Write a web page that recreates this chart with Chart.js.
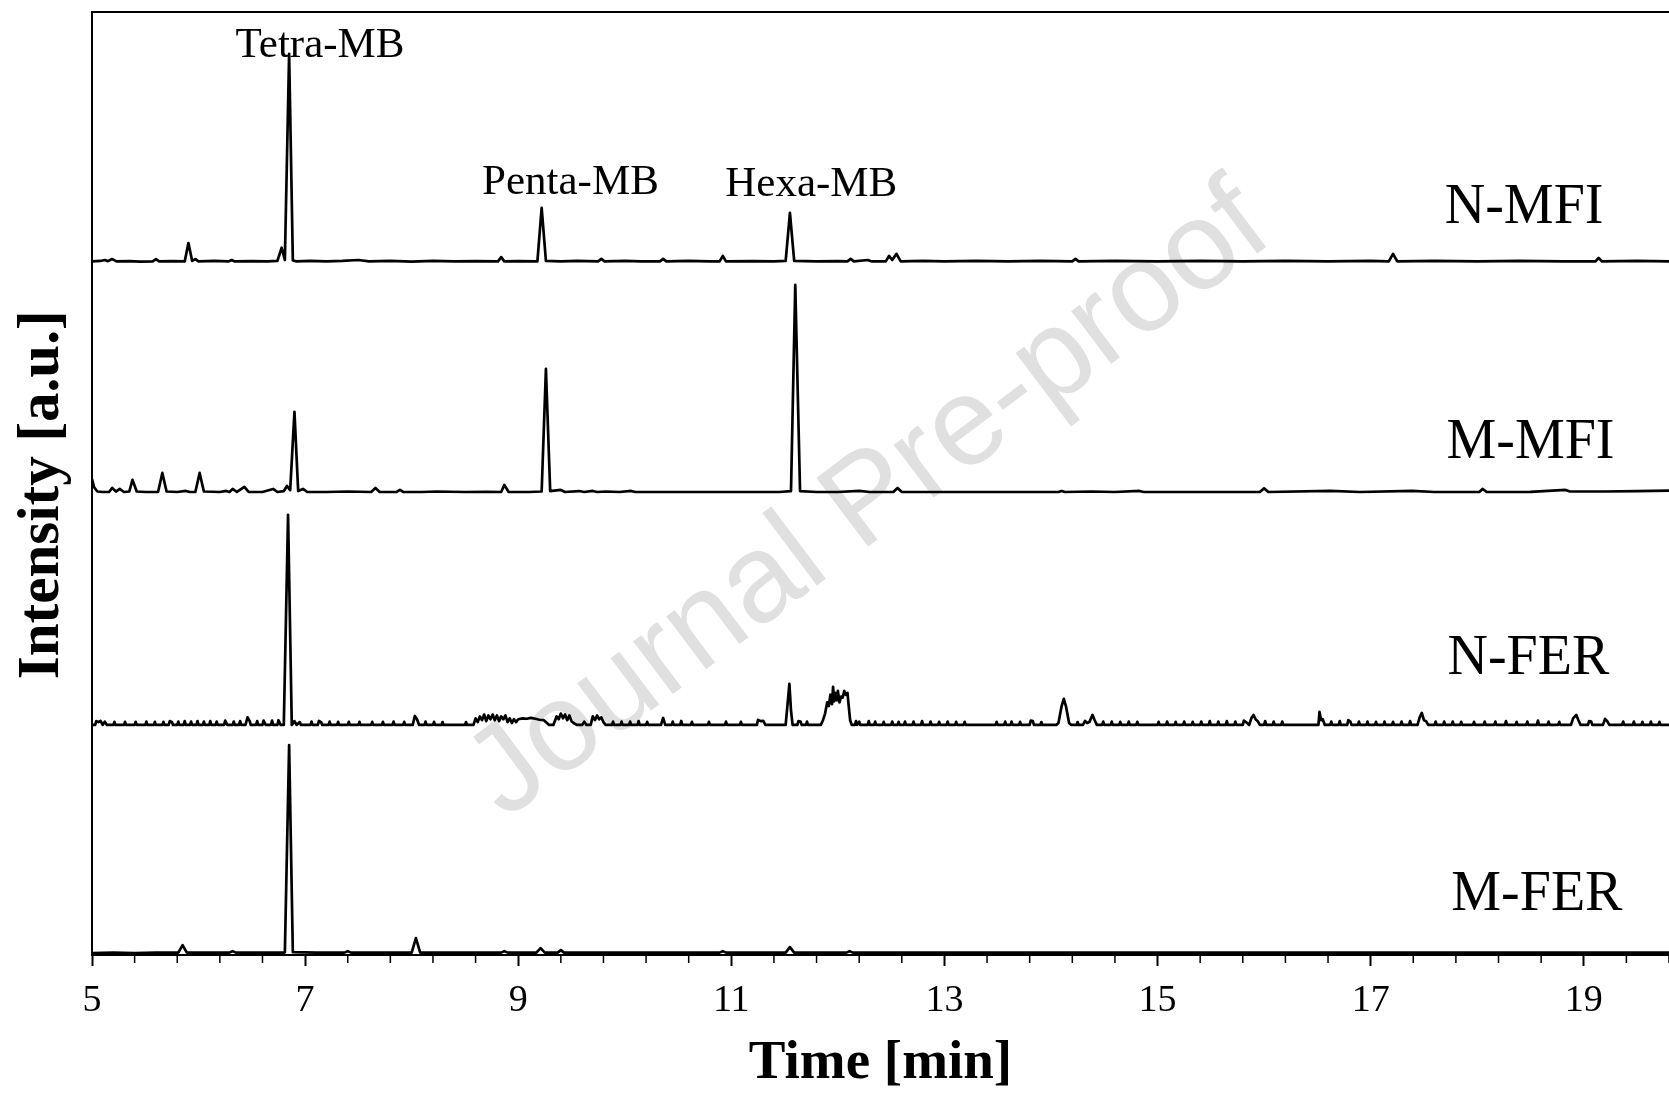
<!DOCTYPE html>
<html>
<head>
<meta charset="utf-8">
<title>MB chromatograms</title>
<script src="https://cdn.jsdelivr.net/npm/chart.js"></script>
<style>
html, body { margin: 0; padding: 0; background: #fff; overflow: hidden; }
canvas { display: block; }
</style>
</head>
<body>
<canvas id="chromChart" width="1669" height="1094"></canvas>
<script>
const traceNames = ['N-MFI', 'M-MFI', 'N-FER', 'M-FER'];
const traceOffsets = [73.5, 49.0, 24.4, 0.2];
const timeTicks = [5, 7, 9, 11, 13, 15, 17, 19];
const peakNames = ['Tetra-MB', 'Penta-MB', 'Hexa-MB'];

// [time (min), intensity above the trace baseline (a.u.)]
const nMfiPoints = [
	[5.00,0.05],[5.08,0.1],[5.12,0.2],[5.15,0.08],[5.19,0.3],[5.23,0.05],[5.35,0.08],[5.45,0.03],
	[5.57,0.05],[5.60,0.3],[5.63,0.05],[5.75,0.08],[5.87,0.05],[5.905,2.0],[5.94,0.1],[5.97,0.3],
	[6.00,0.05],[6.15,0.1],[6.28,0.05],[6.31,0.2],[6.34,0.05],[6.50,0.08],[6.65,0.05],[6.74,0.1],
	[6.78,1.5],[6.81,0.2],[6.85,22.06],[6.885,0.15],[6.92,0.05],[7.05,0.1],[7.20,0.05],[7.35,0.1],
	[7.50,0.2],[7.60,0.05],[7.80,0.1],[8.00,0.03],[8.20,0.1],[8.40,0.05],[8.60,0.08],[8.81,0.05],
	[8.84,0.5],[8.87,0.05],[9.00,0.08],[9.18,0.05],[9.22,5.73],[9.26,0.1],[9.40,0.05],[9.55,0.1],
	[9.75,0.05],[9.78,0.32],[9.81,0.05],[10.00,0.1],[10.15,0.05],[10.33,0.05],[10.36,0.32],[10.39,0.05],
	[10.60,0.1],[10.80,0.05],[10.89,0.05],[10.92,0.64],[10.95,0.05],[11.20,0.08],[11.40,0.05],[11.51,0.1],
	[11.55,5.2],[11.59,0.1],[11.80,0.05],[12.00,0.08],[12.09,0.05],[12.12,0.32],[12.15,0.05],[12.28,0.2],
	[12.32,0.05],[12.45,0.05],[12.48,0.64],[12.51,0.2],[12.55,0.85],[12.59,0.05],[12.80,0.1],[13.00,0.05],
	[13.30,0.1],[13.60,0.05],[13.90,0.1],[14.20,0.05],[14.23,0.32],[14.26,0.05],[14.60,0.1],[15.00,0.05],
	[15.40,0.1],[15.80,0.05],[16.20,0.1],[16.60,0.05],[17.00,0.1],[17.17,0.05],[17.21,0.85],[17.25,0.05],
	[17.60,0.1],[18.00,0.05],[18.40,0.1],[18.80,0.05],[19.11,0.05],[19.14,0.42],[19.17,0.05],[19.50,0.1],
	[19.80,0.05]
];

const mMfiPoints = [
	[5.00,1.48],[5.02,0.6],[5.05,0.15],[5.10,0.1],[5.16,0.1],[5.19,0.53],[5.225,0.15],[5.26,0.42],
	[5.30,0.1],[5.35,0.15],[5.38,1.38],[5.42,0.15],[5.50,0.1],[5.62,0.1],[5.66,2.12],[5.70,0.15],
	[5.80,0.1],[5.88,0.21],[5.92,0.1],[5.97,0.1],[6.01,2.12],[6.05,0.15],[6.20,0.1],[6.26,0.21],
	[6.29,0.1],[6.32,0.42],[6.36,0.1],[6.43,0.64],[6.47,0.1],[6.60,0.1],[6.70,0.42],[6.74,0.1],
	[6.80,0.2],[6.83,0.74],[6.86,0.3],[6.90,8.59],[6.935,0.2],[6.98,0.42],[7.02,0.1],[7.20,0.1],
	[7.40,0.15],[7.62,0.1],[7.66,0.53],[7.70,0.1],[7.86,0.1],[7.89,0.32],[7.92,0.1],[8.10,0.1],
	[8.23,0.15],[8.50,0.1],[8.70,0.12],[8.84,0.1],[8.87,0.85],[8.91,0.1],[9.10,0.1],[9.22,0.15],
	[9.26,13.15],[9.30,0.2],[9.40,0.32],[9.44,0.1],[9.57,0.2],[9.62,0.1],[9.70,0.21],[9.74,0.1],
	[9.82,0.15],[9.95,0.1],[10.06,0.21],[10.10,0.1],[10.40,0.1],[10.80,0.1],[11.20,0.1],[11.45,0.1],
	[11.56,0.2],[11.60,22.06],[11.645,0.2],[11.80,0.1],[12.00,0.1],[12.20,0.21],[12.30,0.1],[12.52,0.1],
	[12.56,0.53],[12.60,0.1],[13.00,0.1],[13.50,0.1],[14.07,0.1],[14.10,0.21],[14.13,0.1],[14.38,0.15],
	[14.60,0.1],[14.83,0.21],[14.87,0.1],[15.30,0.1],[15.96,0.1],[16.00,0.48],[16.04,0.1],[16.62,0.21],
	[16.90,0.1],[17.39,0.21],[17.60,0.1],[18.02,0.1],[18.05,0.42],[18.09,0.1],[18.50,0.12],[18.83,0.32],
	[18.87,0.15],[19.20,0.15],[19.50,0.2],[19.80,0.25]
];

const nFerPoints = [
	[5.00,0],[5.03,0],[5.04,0.4],[5.06,0.3],[5.08,0.42],[5.10,0],[5.12,0.35],[5.14,0],[5.20,0],[5.21,0.32],
	[5.22,0],[5.30,0],[5.31,0.32],[5.32,0],[5.40,0],[5.41,0.32],[5.42,0],[5.50,0],[5.51,0.35],[5.52,0],
	[5.58,0],[5.59,0.32],[5.60,0],[5.66,0],[5.67,0.32],[5.68,0],[5.72,0],[5.73,0.4],[5.75,0.3],[5.76,0],
	[5.80,0],[5.81,0.35],[5.82,0],[5.86,0],[5.87,0.4],[5.88,0],[5.92,0],[5.93,0.35],[5.94,0],[5.98,0],
	[5.99,0.4],[6.00,0],[6.04,0],[6.05,0.35],[6.06,0],[6.10,0],[6.11,0.4],[6.12,0],[6.16,0],[6.17,0.35],
	[6.18,0],[6.24,0],[6.25,0.45],[6.27,0],[6.32,0],[6.33,0.35],[6.34,0],[6.38,0],[6.39,0.4],[6.40,0],
	[6.44,0],[6.46,0.8],[6.48,0.4],[6.49,0],[6.54,0],[6.55,0.4],[6.56,0],[6.60,0],[6.61,0.45],[6.63,0],
	[6.68,0],[6.69,0.45],[6.70,0],[6.74,0],[6.75,0.5],[6.77,0],[6.80,0],[6.84,22.27],[6.875,0],[6.90,0.4],
	[6.92,0],[6.95,0.3],[6.96,0],[7.05,0],[7.06,0.35],[7.07,0],[7.12,0],[7.13,0.42],[7.15,0.3],[7.16,0],
	[7.22,0],[7.23,0.35],[7.24,0],[7.30,0],[7.31,0.32],[7.32,0],[7.40,0],[7.41,0.32],[7.42,0],[7.50,0],
	[7.51,0.32],[7.52,0],[7.62,0],[7.63,0.32],[7.64,0],[7.72,0],[7.73,0.32],[7.74,0],[7.82,0],[7.83,0.35],
	[7.84,0],[7.92,0],[7.93,0.32],[7.94,0],[8.01,0],[8.03,0.95],[8.05,0.6],[8.07,0],[8.12,0],[8.13,0.35],
	[8.14,0],[8.20,0],[8.21,0.32],[8.22,0],[8.28,0],[8.29,0.3],[8.30,0],[8.50,0],[8.51,0.3],[8.52,0],
	[8.58,0],[8.60,0.7],[8.62,0.3],[8.64,0.9],[8.66,0.5],[8.68,1.1],[8.70,0.4],[8.72,1.0],[8.74,0.6],[8.76,1.1],
	[8.78,0.5],[8.80,1.0],[8.82,0.4],[8.84,0.9],[8.86,0.6],[8.88,1.0],[8.90,0.3],[8.92,0.7],[8.94,0.2],[8.96,0.6],
	[8.98,0.3],[9.00,0.6],[9.04,0.7],[9.08,0.65],[9.12,0.75],[9.16,0.65],[9.20,0.55],[9.24,0.5],[9.27,0.2],[9.29,0],
	[9.33,0],[9.36,0.9],[9.38,0.6],[9.40,1.2],[9.42,0.7],[9.44,1.1],[9.46,0.5],[9.48,1.0],[9.50,0.4],[9.52,0.2],
	[9.55,0],[9.60,0],[9.62,0.35],[9.64,0],[9.68,0],[9.70,0.9],[9.72,0.5],[9.74,1.0],[9.76,0.6],[9.78,0.8],
	[9.80,0.3],[9.82,0],[9.88,0],[9.89,0.35],[9.90,0],[9.96,0],[9.97,0.35],[9.98,0],[10.04,0],[10.05,0.35],
	[10.06,0],[10.12,0],[10.13,0.4],[10.14,0],[10.20,0],[10.21,0.32],[10.22,0],[10.34,0],[10.36,0.74],[10.38,0],
	[10.44,0],[10.45,0.35],[10.46,0],[10.52,0],[10.53,0.42],[10.54,0],[10.62,0],[10.63,0.32],[10.64,0],[10.78,0],
	[10.79,0.32],[10.80,0],[10.94,0],[10.95,0.35],[10.96,0],[11.08,0],[11.09,0.32],[11.10,0],[11.24,0],[11.25,0.53],
	[11.28,0.4],[11.30,0.42],[11.32,0],[11.51,0],[11.545,4.35],[11.56,1.5],[11.575,0],[11.62,0],[11.63,0.4],[11.65,0.35],
	[11.66,0],[11.70,0],[11.71,0.35],[11.72,0],[11.84,0],[11.86,0.5],[11.88,1.2],[11.90,2.4],[11.915,2.0],[11.93,3.2],
	[11.945,2.2],[11.955,4.03],[11.965,2.5],[11.975,3.4],[11.99,2.6],[12.00,3.6],[12.015,2.4],[12.03,3.0],[12.045,2.9],[12.06,3.6],
	[12.075,3.2],[12.09,3.4],[12.10,2.2],[12.115,0.5],[12.13,0],[12.16,0],[12.17,0.4],[12.18,0],[12.20,0.35],[12.21,0],
	[12.28,0],[12.29,0.4],[12.30,0],[12.34,0],[12.35,0.35],[12.36,0],[12.42,0],[12.43,0.32],[12.44,0],[12.50,0],
	[12.51,0.35],[12.52,0],[12.56,0],[12.57,0.32],[12.58,0],[12.62,0],[12.63,0.35],[12.64,0],[12.70,0],[12.71,0.35],
	[12.72,0],[12.78,0],[12.79,0.4],[12.80,0],[12.86,0],[12.87,0.35],[12.88,0],[12.94,0],[12.95,0.32],[12.96,0],
	[13.02,0],[13.03,0.35],[13.04,0],[13.10,0],[13.11,0.32],[13.12,0],[13.18,0],[13.19,0.32],[13.20,0],[13.48,0],
	[13.49,0.32],[13.50,0],[13.56,0],[13.57,0.35],[13.58,0],[13.62,0],[13.63,0.35],[13.64,0],[13.70,0],[13.71,0.32],
	[13.72,0],[13.80,0],[13.81,0.45],[13.83,0.4],[13.84,0],[13.90,0],[13.91,0.3],[13.92,0],[14.05,0],[14.07,0.2],
	[14.10,2.0],[14.12,2.76],[14.14,2.0],[14.17,0.2],[14.19,0],[14.24,0],[14.25,0.3],[14.26,0],[14.30,0],[14.32,0.42],
	[14.34,0.2],[14.36,0.3],[14.39,1.06],[14.41,0.5],[14.43,0],[14.48,0],[14.49,0.35],[14.50,0],[14.56,0],[14.57,0.35],
	[14.58,0],[14.64,0],[14.65,0.32],[14.66,0],[14.72,0],[14.73,0.35],[14.74,0],[14.80,0],[14.81,0.32],[14.82,0],
	[15.00,0],[15.01,0.32],[15.02,0],[15.08,0],[15.09,0.35],[15.10,0],[15.16,0],[15.17,0.32],[15.18,0],[15.24,0],
	[15.25,0.35],[15.26,0],[15.32,0],[15.33,0.32],[15.34,0],[15.40,0],[15.41,0.35],[15.42,0],[15.48,0],[15.49,0.4],
	[15.50,0],[15.56,0],[15.57,0.35],[15.58,0],[15.64,0],[15.65,0.4],[15.66,0],[15.72,0],[15.73,0.35],[15.74,0],
	[15.80,0],[15.81,0.45],[15.83,0.3],[15.86,0],[15.88,0.7],[15.90,1.06],[15.92,0.6],[15.94,0.4],[15.96,0],[16.00,0],
	[16.01,0.4],[16.02,0],[16.08,0],[16.09,0.35],[16.10,0],[16.16,0],[16.17,0.35],[16.18,0],[16.51,0],[16.52,1.38],
	[16.535,0.5],[16.55,0.6],[16.57,0],[16.62,0],[16.63,0.35],[16.64,0],[16.70,0],[16.71,0.4],[16.72,0],[16.78,0],
	[16.79,0.5],[16.81,0.35],[16.82,0],[16.88,0],[16.89,0.35],[16.90,0],[16.96,0],[16.97,0.35],[16.98,0],[17.04,0],
	[17.05,0.32],[17.06,0],[17.12,0],[17.13,0.35],[17.14,0],[17.20,0],[17.21,0.32],[17.22,0],[17.28,0],[17.29,0.35],
	[17.30,0],[17.36,0],[17.37,0.4],[17.38,0],[17.44,0],[17.46,0.8],[17.48,1.27],[17.50,0.5],[17.52,0.4],[17.54,0],
	[17.60,0],[17.61,0.35],[17.62,0],[17.68,0],[17.69,0.35],[17.70,0],[17.76,0],[17.77,0.35],[17.78,0],[17.84,0],
	[17.85,0.32],[17.86,0],[17.96,0],[17.97,0.32],[17.98,0],[18.06,0],[18.07,0.35],[18.08,0],[18.16,0],[18.17,0.35],
	[18.18,0],[18.26,0],[18.27,0.4],[18.28,0],[18.36,0],[18.37,0.32],[18.38,0],[18.46,0],[18.47,0.35],[18.48,0],
	[18.56,0],[18.57,0.45],[18.58,0],[18.66,0],[18.67,0.35],[18.68,0],[18.76,0],[18.77,0.32],[18.78,0],[18.88,0],
	[18.90,0.7],[18.93,1.06],[18.95,0.5],[18.97,0],[19.04,0],[19.05,0.4],[19.07,0.35],[19.08,0],[19.18,0],[19.20,0.64],
	[19.22,0.4],[19.24,0],[19.36,0],[19.37,0.35],[19.38,0],[19.46,0],[19.47,0.35],[19.48,0],[19.54,0],[19.55,0.32],
	[19.56,0],[19.62,0],[19.63,0.35],[19.64,0],[19.70,0],[19.71,0.32],[19.72,0],[19.80,0]
];

const mFerPoints = [
	[5.00,0],[5.20,0.05],[5.40,0],[5.60,0.05],[5.81,0.05],[5.85,0.85],[5.89,0.05],[6.10,0.05],
	[6.29,0.05],[6.32,0.21],[6.35,0.05],[6.60,0.05],[6.80,0.05],[6.81,0.1],[6.85,22.06],[6.885,0.1],
	[7.10,0.05],[7.37,0.05],[7.40,0.21],[7.43,0.05],[7.70,0.05],[8.00,0.05],[8.04,1.59],[8.08,0.05],
	[8.40,0.05],[8.84,0.05],[8.87,0.21],[8.90,0.05],[9.17,0.05],[9.21,0.53],[9.25,0.05],[9.37,0.05],
	[9.40,0.32],[9.43,0.05],[9.80,0.05],[10.20,0.05],[10.60,0.05],[10.89,0.05],[10.92,0.21],[10.95,0.05],
	[11.30,0.05],[11.51,0.05],[11.55,0.64],[11.59,0.05],[11.90,0.05],[12.08,0.05],[12.11,0.21],[12.14,0.05],
	[12.50,0.05],[13.00,0.05],[13.50,0.05],[14.00,0.05],[14.50,0.05],[15.00,0.05],[15.50,0.05],[16.00,0.05],
	[16.50,0.05],[17.00,0.05],[17.50,0.05],[18.00,0.05],[18.50,0.05],[19.00,0.05],[19.50,0.05],[19.80,0.05]
];

const tracePoints = [nMfiPoints, mMfiPoints, nFerPoints, mFerPoints];

const serif = "'Liberation Serif', 'Times New Roman', serif";
Chart.defaults.font.family = serif;
Chart.defaults.color = '#000';

const datasets = tracePoints.map((pts, i) => ({
	label: traceNames[i],
	data: pts.map(p => ({ x: p[0], y: p[1] + traceOffsets[i] })),
	borderColor: '#000',
	borderWidth: 2.7,
	borderJoinStyle: 'round',
	pointRadius: 0,
	tension: 0,
	fill: false
}));

// small ticks between the labelled ones, every 0.4 min
const minorTicks = {
	id: 'minorTicks',
	afterDraw(chart) {
		const xs = chart.scales.x;
		const ctx = chart.ctx;
		const y0 = chart.chartArea.bottom;
		ctx.save();
		ctx.strokeStyle = '#000';
		ctx.lineWidth = 1.5;
		ctx.beginPath();
		for (let i = 1; 5 + i * 0.4 <= xs.max + 1e-6; i++) {
			if (i % 5 === 0) continue;
			const px = xs.getPixelForValue(5 + i * 0.4);
			ctx.moveTo(px, y0);
			ctx.lineTo(px, y0 + 8);
		}
		ctx.stroke();
		ctx.restore();
	}
};

const chartText = {
	id: 'chartText',
	beforeDatasetsDraw(chart, args, opts) {
		const { x, y } = chart.scales;
		const ctx = chart.ctx;
		ctx.save();
		ctx.translate(x.getPixelForValue(opts.mark.time), y.getPixelForValue(opts.mark.level));
		ctx.rotate(opts.mark.angle * Math.PI / 180);
		ctx.fillStyle = '#e0e0e0';
		ctx.font = "125px 'Liberation Sans', Arial, sans-serif";
		ctx.textAlign = 'center';
		ctx.textBaseline = 'middle';
		ctx.fillText(opts.mark.text, 0, 0);
		ctx.restore();
	},
	afterDatasetsDraw(chart, args, opts) {
		const { x, y } = chart.scales;
		const ctx = chart.ctx;
		ctx.save();
		ctx.fillStyle = '#000';
		ctx.textAlign = 'center';
		ctx.textBaseline = 'alphabetic';
		ctx.font = '56px ' + serif;
		traceNames.forEach((name, i) => {
			ctx.fillText(name, x.getPixelForValue(opts.traceAt[i][0]), y.getPixelForValue(opts.traceAt[i][1]));
		});
		ctx.font = '43px ' + serif;
		peakNames.forEach((name, i) => {
			ctx.fillText(name, x.getPixelForValue(opts.peakAt[i][0]), y.getPixelForValue(opts.peakAt[i][1]));
		});
		// y axis title, a little below the middle of the plot as in the original
		ctx.translate(opts.yTitle.left, y.getPixelForValue(opts.yTitle.level));
		ctx.rotate(-Math.PI / 2);
		ctx.font = 'bold 59px ' + serif;
		ctx.textBaseline = 'middle';
		ctx.fillText(opts.yTitle.text, 0, 0);
		ctx.restore();
	}
};

new Chart(document.getElementById('chromChart'), {
	type: 'line',
	data: { datasets },
	options: {
		responsive: false,
		animation: false,
		events: [],
		layout: { padding: 0 },
		plugins: {
			legend: { display: false },
			tooltip: { enabled: false },
			chartText: {
				mark: { text: 'Journal Pre-proof', time: 12.3, level: 48.0, angle: -37 },
				traceAt: [[18.44, 77.6], [18.50, 52.7], [18.48, 29.85], [18.56, 4.72]],
				peakAt: [[7.14, 95.2], [9.49, 80.7], [11.75, 80.5]],
				yTitle: { text: 'Intensity [a.u.]', left: 43, level: 48.8 }
			}
		},
		scales: {
			x: {
				type: 'linear',
				position: 'bottom',
				min: 5,
				max: 19.8,
				afterBuildTicks: axis => { axis.ticks = timeTicks.map(v => ({ value: v })); },
				afterFit: axis => { axis.height = 139; },
				ticks: { font: { size: 38 }, color: '#000', padding: 12, maxRotation: 0, autoSkip: false },
				grid: { display: true, drawOnChartArea: false, drawTicks: true, tickLength: 11, tickWidth: 2, tickColor: '#000' },
				border: { display: true, color: '#000', width: 2 },
				title: {
					display: true,
					text: 'Time [min]',
					color: '#000',
					font: { size: 55, weight: 'bold', lineHeight: 1 },
					padding: { top: 0, bottom: 3 }
				}
			},
			xTop: {
				type: 'linear',
				position: 'top',
				min: 5,
				max: 19.8,
				afterFit: axis => { axis.height = 12; },
				ticks: { display: false },
				grid: { display: false },
				border: { display: true, color: '#000', width: 2 }
			},
			y: {
				type: 'linear',
				min: 0,
				max: 100,
				afterFit: axis => { axis.width = 92; },
				ticks: { display: false },
				grid: { display: false },
				border: { display: true, color: '#000', width: 2 },
				title: { display: false }
			}
		}
	},
	plugins: [minorTicks, chartText]
});
</script>
</body>
</html>
